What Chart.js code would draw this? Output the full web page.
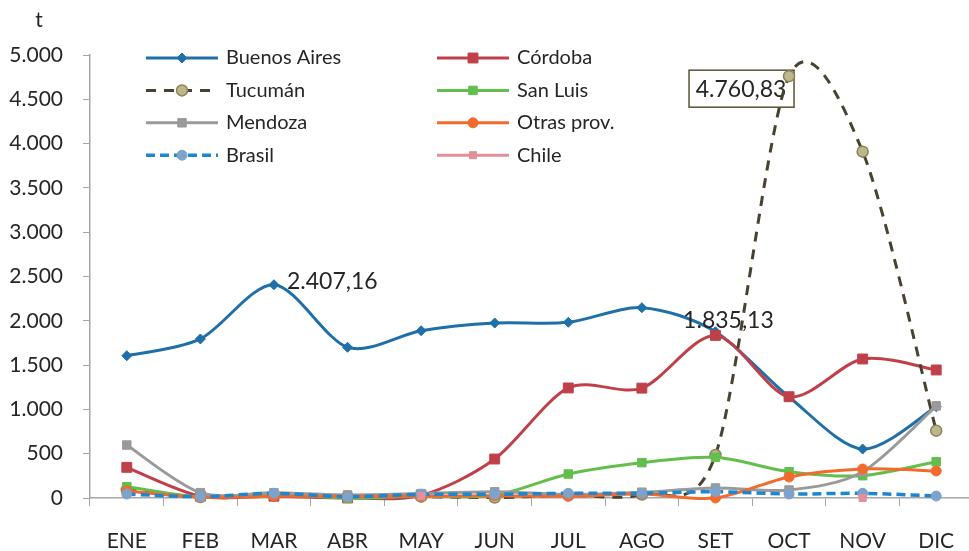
<!DOCTYPE html>
<html>
<head>
<meta charset="utf-8">
<title>Despachos mensuales por destino</title>
<script src="https://cdn.jsdelivr.net/npm/chart.js@4/dist/chart.umd.min.js"></script>
<style>
  html, body { margin: 0; padding: 0; background: #fff; overflow: hidden; }
  canvas { display: block; }
</style>
</head>
<body>
<canvas id="chart" width="981" height="551"></canvas>
<script>
"use strict";

// months on the x axis
var months = ["ENE", "FEB", "MAR", "ABR", "MAY", "JUN", "JUL", "AGO", "SET", "OCT", "NOV", "DIC"];

// tonnes per month
var buenosAires = [1606, 1795, 2407.16, 1701, 1888, 1975, 1983, 2148, 1877, 1140, 553, 1031];
var cordoba = [346, 20, 20, 0, 30, 440, 1242, 1240, 1835.13, 1143, 1569, 1445];
var tucuman = [90, 10, 30, 10, 15, 5, 30, 40, 485, 4760.83, 3909, 760];
var sanLuis = [128, 10, 40, 0, 20, 30, 271, 399, 459, 297, 252, 410];
var mendoza = [598, 60, 60, 35, 50, 70, 40, 65, 113, 90, 297, 1040];
var otrasProv = [79, 10, 20, 20, 20, 25, 20, 45, 0, 237, 327, 305];
var brasil = [45, 15, 53, 15, 42, 42, 53, 53, 71, 45, 53, 22];
var chile = [null, null, null, null, 20, null, null, null, null, null, 0, null];

// y axis ticks
var yTicks = { min: 0, max: 5000, step: 500 };

// labelled points: [dataset index, month index]
var pointLabels = [[0, 2], [1, 8], [2, 9]];

var axisColor = "#a6a6a6";
var textColor = "#262626";

// 1234.5 -> "1.234,50"
function fmt(v, dec) {
    var parts = v.toFixed(dec).split(".");
    var ip = parts[0].replace(/\B(?=(\d{3})+(?!\d))/g, ".");
    return parts[1] ? ip + "," + parts[1] : ip;
}

function series(label, data, color, opts) {
    var ds = {
        label: label,
        data: data,
        borderColor: color,
        backgroundColor: color,
        borderWidth: 3,
        tension: 0.4,
        clip: false,
        pointStyle: "circle",
        pointRadius: 5,
        pointBackgroundColor: color,
        pointBorderColor: color,
        pointBorderWidth: 1
    };
    Object.keys(opts || {}).forEach(function (k) { ds[k] = opts[k]; });
    return ds;
}

var datasets = [
    series("Buenos Aires", buenosAires, "#1f6fa8", { pointStyle: "rectRot", pointRadius: 5 }),
    series("Córdoba", cordoba, "#c0404a", { pointStyle: "rect", pointRadius: 7 }),
    series("Tucumán", tucuman, "#4a4230", { borderDash: [10, 8], pointRadius: 5.5,
        pointBackgroundColor: "#bdb78c", pointBorderColor: "#8c8456", pointBorderWidth: 1.5 }),
    series("San Luis", sanLuis, "#63be4e", { pointStyle: "rect", pointRadius: 6 }),
    series("Mendoza", mendoza, "#9a9a9a", { pointStyle: "rect", pointRadius: 6 }),
    series("Otras prov.", otrasProv, "#f26b2d", { pointRadius: 5 }),
    series("Brasil", brasil, "#1c86d0", { borderDash: [9, 5], borderWidth: 3.5, pointRadius: 5,
        pointBackgroundColor: "#7da3cc", pointBorderColor: "#7da3cc" }),
    series("Chile", chile, "#e3909a", { pointStyle: "rect", pointRadius: 5 })
];
// later series drawn on top, like the spreadsheet
datasets.forEach(function (ds, i) { ds.order = datasets.length - i; });

// Excel-like smoothing: catmull-rom control points from the library's point positions
var smoothLines = {
    id: "smoothLines",
    beforeDatasetDraw: function (chart, args) {
        var pts = args.meta.data, k = 0.148;
        pts.forEach(function (p, i) {
            if (p.skip) { return; }
            var prev = (i > 0 && !pts[i - 1].skip) ? pts[i - 1] : p;
            var next = (i < pts.length - 1 && !pts[i + 1].skip) ? pts[i + 1] : p;
            p.cp1x = p.x - (next.x - prev.x) * k;
            p.cp1y = p.y - (next.y - prev.y) * k;
            p.cp2x = p.x + (next.x - prev.x) * k;
            p.cp2y = p.y + (next.y - prev.y) * k;
        });
        args.meta.dataset._pointsUpdated = true;
    }
};

// value labels, the OCT one sits in a box under the line
var valueLabels = {
    id: "valueLabels",
    beforeDatasetsDraw: function (chart) {
        var ctx = chart.ctx;
        var p = chart.getDatasetMeta(2).data[9];
        ctx.save();
        ctx.fillStyle = "#fff";
        ctx.strokeStyle = "#5a5238";
        ctx.lineWidth = 1.5;
        ctx.fillRect(p.x - 100, p.y - 6, 105, 37);
        ctx.strokeRect(p.x - 100, p.y - 6, 105, 37);
        ctx.fillStyle = textColor;
        ctx.font = "23px Lato, 'Open Sans', sans-serif";
        ctx.textAlign = "center";
        ctx.textBaseline = "middle";
        ctx.fillText(fmt(tucuman[9], 2), p.x - 48, p.y + 13);
        ctx.restore();
    },
    afterDatasetsDraw: function (chart) {
        var ctx = chart.ctx;
        ctx.save();
        ctx.fillStyle = textColor;
        ctx.font = "23px Lato, 'Open Sans', sans-serif";
        ctx.textBaseline = "middle";
        pointLabels.slice(0, 2).forEach(function (pl, n) {
            var p = chart.getDatasetMeta(pl[0]).data[pl[1]];
            var v = chart.data.datasets[pl[0]].data[pl[1]];
            if (n === 0) {
                ctx.textAlign = "left";
                ctx.fillText(fmt(v, 2), p.x + 13, p.y - 3);
            } else {
                ctx.textAlign = "center";
                ctx.fillText(fmt(v, 2), p.x + 13, p.y - 15);
            }
        });
        ctx.restore();
    }
};

// two-column legend inside the plot, plus the "t" unit
var legendBox = {
    id: "legendBox",
    afterDraw: function (chart) {
        var ctx = chart.ctx;
        ctx.save();
        chart.data.datasets.forEach(function (ds, i) {
            var x = i % 2 === 0 ? 146 : 437;
            var y = 58 + Math.floor(i / 2) * 32.4;
            ctx.strokeStyle = ds.borderColor;
            ctx.lineWidth = ds.borderWidth;
            ctx.setLineDash(ds.borderDash || []);
            ctx.beginPath();
            ctx.moveTo(x, y);
            ctx.lineTo(x + 72, y);
            ctx.stroke();
            ctx.setLineDash([]);
            ctx.fillStyle = ds.pointBackgroundColor;
            ctx.strokeStyle = ds.pointBorderColor;
            ctx.lineWidth = ds.pointBorderWidth;
            Chart.helpers.drawPoint(ctx, {
                pointStyle: ds.pointStyle,
                radius: ds.pointRadius,
                rotation: 0,
                borderWidth: ds.pointBorderWidth
            }, x + 36, y);
            ctx.fillStyle = textColor;
            ctx.font = "20px Lato, 'Open Sans', sans-serif";
            ctx.textAlign = "left";
            ctx.textBaseline = "middle";
            ctx.fillText(ds.label, x + 80, y);
        });
        ctx.font = "21px Lato, 'Open Sans', sans-serif";
        ctx.textAlign = "center";
        ctx.fillText("t", 39, 20);
        ctx.restore();
    }
};

Chart.defaults.font.family = "Lato, 'Open Sans', sans-serif";
Chart.defaults.color = textColor;

new Chart(document.getElementById("chart"), {
    type: "line",
    data: { labels: months, datasets: datasets },
    plugins: [smoothLines, valueLabels, legendBox],
    options: {
        responsive: false,
        animation: false,
        devicePixelRatio: 1,
        layout: { padding: { top: 55, right: 1, left: 0, bottom: 0 } },
        plugins: { legend: { display: false }, tooltip: { enabled: false } },
        scales: {
            x: {
                offset: true,
                grid: { offset: true, drawOnChartArea: false, tickLength: 8, color: axisColor },
                border: { color: axisColor, width: 1.5 },
                ticks: { font: { size: 21 }, padding: 23, maxRotation: 0 },
                afterFit: function (s) { s.height = 53; }
            },
            y: {
                min: yTicks.min,
                max: yTicks.max,
                grid: { drawOnChartArea: false, tickLength: 7, color: axisColor },
                border: { color: axisColor, width: 1.5 },
                ticks: {
                    stepSize: yTicks.step,
                    font: { size: 21 },
                    padding: 20,
                    callback: function (v) { return fmt(v, 0); }
                },
                afterFit: function (s) { s.width = 90; }
            }
        }
    }
});
</script>
</body>
</html>
